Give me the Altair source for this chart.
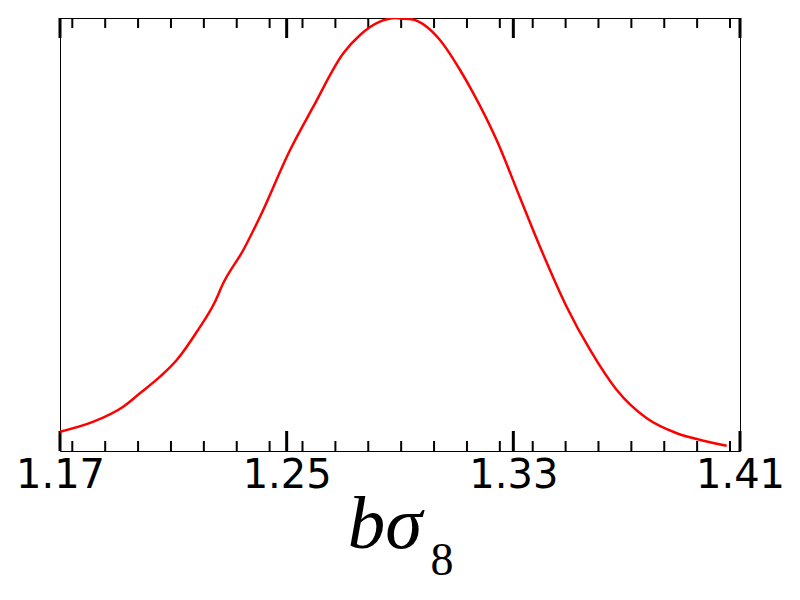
import altair as alt
import pandas as pd

# Posterior curve (normalised to peak = 1)
BS8 = [1.1700, 1.1818, 1.1923, 1.1982, 1.2053, 1.2112, 1.2183, 1.2247, 1.2276,
       1.2347, 1.2406, 1.2512, 1.2594, 1.2700, 1.2759, 1.2829, 1.2885, 1.2900,
       1.2941, 1.2994, 1.3041, 1.3112, 1.3159, 1.3241, 1.3324, 1.3394, 1.3488,
       1.3571, 1.3665, 1.3771, 1.3877, 1.3971, 1.4053]
PDF = [0.0446, 0.0677, 0.1023, 0.1333, 0.1716, 0.2102, 0.2755, 0.3448, 0.3873,
       0.4642, 0.5411, 0.6952, 0.7952, 0.9185, 0.9607, 0.9915, 1.0000, 0.9990,
       0.9970, 0.9799, 0.9492, 0.8799, 0.8261, 0.7182, 0.5843, 0.4718, 0.3333,
       0.2333, 0.1409, 0.0755, 0.0409, 0.0238, 0.0122]

MAJOR_TICKS = [1.17, 1.25, 1.33, 1.41]
MINOR_TICKS = [1.17434, 1.18595, 1.19756, 1.20916, 1.22077, 1.23238, 1.24398,
               1.25559, 1.26720, 1.27880, 1.29041, 1.30202, 1.31363, 1.32523,
               1.33684, 1.34845, 1.36005, 1.37166, 1.38327, 1.39487, 1.40648]

W, H = 680, 433

curve = pd.DataFrame({"x": BS8, "y": PDF})
major = pd.DataFrame({"x": MAJOR_TICKS})
minor = pd.DataFrame({"x": MINOR_TICKS})

xscale = alt.Scale(domain=[1.17, 1.41], nice=False, zero=False)
xaxis = alt.Axis(values=MAJOR_TICKS, format=".2f", labelFontSize=40,
                 labelFont="DejaVu Sans", labelColor="black", ticks=False,
                 domain=False, grid=False, labelPadding=4, title=None,
                 labelFlush=False, labelOverlap=False)
xenc = alt.X("x:Q", scale=xscale, axis=xaxis)

line = alt.Chart(curve).mark_line(color="red", strokeWidth=2.5, interpolate="monotone", clip=True).encode(
    x=xenc,
    y=alt.Y("y:Q", scale=alt.Scale(domain=[0, 1], nice=False), axis=None),
)

def ticks(df, length, width):
    bottom = alt.Chart(df).mark_rule(color="black", strokeWidth=width).encode(
        x=xenc, y=alt.value(H), y2=alt.value(H - length))
    top = alt.Chart(df).mark_rule(color="black", strokeWidth=width).encode(
        x=xenc, y=alt.value(0), y2=alt.value(length))
    return bottom + top

label_main = alt.Chart(pd.DataFrame({"t": ["bσ"]})).mark_text(
    font="Liberation Serif", fontStyle="italic", fontSize=75, baseline="alphabetic",
    align="center", color="black").encode(
    text="t:N", x=alt.value(325), y=alt.value(530))
label_sub = alt.Chart(pd.DataFrame({"s": ["8"]})).mark_text(
    font="Liberation Serif", fontStyle="normal", fontSize=46, baseline="alphabetic",
    align="center", color="black").encode(
    text="s:N", x=alt.value(382), y=alt.value(557))

chart = alt.layer(
    ticks(minor, 10, 2), ticks(major, 20, 3), line, label_main, label_sub
).properties(
    width=W, height=H, background="white",
    padding={"left": 52, "top": 10, "right": 50, "bottom": 140},
    autosize=alt.AutoSizeParams(type="none"),
).configure_view(stroke="black", strokeWidth=1)

chart.save("out.html", embed_options={"renderer": "svg", "actions": False})
